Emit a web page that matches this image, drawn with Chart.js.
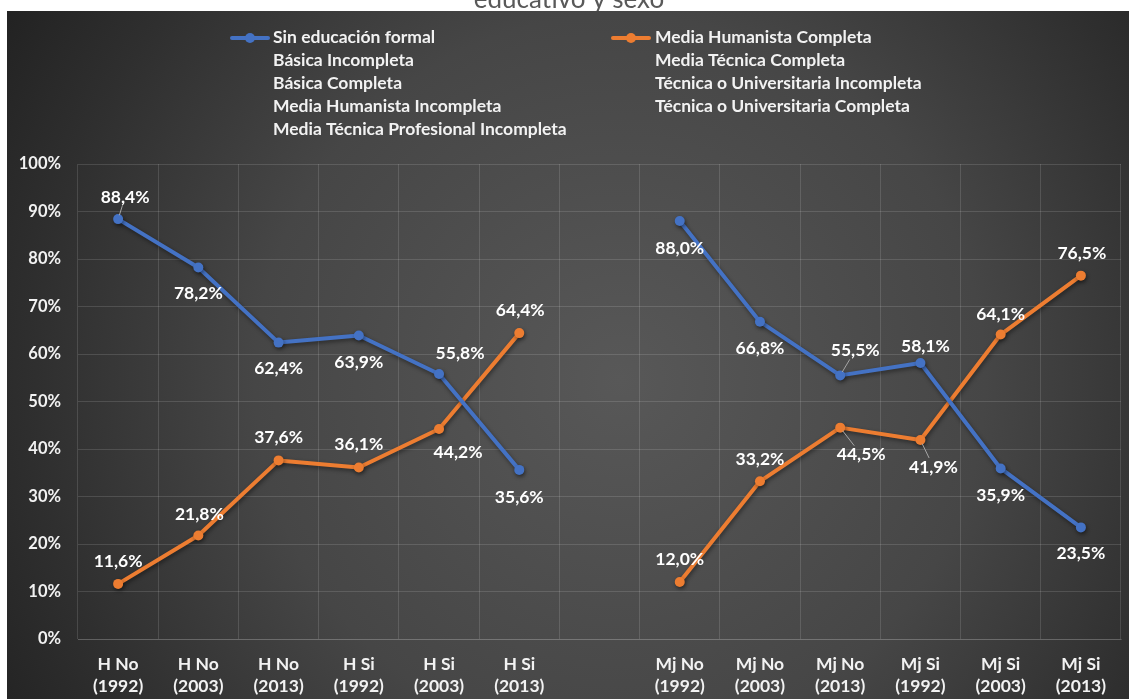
<!DOCTYPE html>
<html>
<head>
<meta charset="utf-8">
<script src="https://cdn.jsdelivr.net/npm/chart.js@4.4.1/dist/chart.umd.min.js"></script>
<style>
  html, body { margin: 0; padding: 0; background: #ffffff; }
  canvas { display: block; }
</style>
</head>
<body>
<canvas id="chart" width="1129" height="699"></canvas>
<script>
// Categories: sex (H / Mj), schooling (No / Si) and survey year; '' is the spacer column
const categories = [
  ['H No', '(1992)'], ['H No', '(2003)'], ['H No', '(2013)'],
  ['H Si', '(1992)'], ['H Si', '(2003)'], ['H Si', '(2013)'],
  '',
  ['Mj No', '(1992)'], ['Mj No', '(2003)'], ['Mj No', '(2013)'],
  ['Mj Si', '(1992)'], ['Mj Si', '(2003)'], ['Mj Si', '(2013)']
];

// Percentages per category (null = spacer column)
const sinEducacionFormal      = [88.4, 78.2, 62.4, 63.9, 55.8, 35.6, null, 88.0, 66.8, 55.5, 58.1, 35.9, 23.5];
const mediaHumanistaCompleta  = [11.6, 21.8, 37.6, 36.1, 44.2, 64.4, null, 12.0, 33.2, 44.5, 41.9, 64.1, 76.5];

// Legend entries, listed column by column
const legendColumnA = [
  'Sin educación formal',
  'Básica Incompleta',
  'Básica Completa',
  'Media Humanista Incompleta',
  'Media Técnica Profesional Incompleta'
];
const legendColumnB = [
  'Media Humanista Completa',
  'Media Técnica Completa',
  'Técnica o Universitaria Incompleta',
  'Técnica o Universitaria Completa'
];

const yTickValues = [0, 10, 20, 30, 40, 50, 60, 70, 80, 90, 100];
const titleText = 'educativo y sexo';

const BLUE = '#4472C4';
const ORANGE = '#ED7D31';
const FONT = 'Lato';

// Value-label nudges [dx, dy, leader] relative to each marker
const blueLabelNudge = [
  [7, -22, true], [0, 26], [0, 26], [0, 27], [21, -21], [0, 27], null,
  [0, 27], [0, 27], [15, -25, true], [5, -17], [0, 27], [0, 26]
];
const orangeLabelNudge = [
  [0, -23], [1, -21], [0, -23], [0, -23], [19, 23], [1, -23], null,
  [0, -23], [0, -22], [21, 27, true], [13, 27, true], [0, -20], [1, -22]
];

function seriesStyle(label, data, color) {
  return {
    label: label,
    data: data,
    borderColor: color,
    backgroundColor: color,
    pointBackgroundColor: color,
    pointBorderColor: color,
    borderWidth: 4,
    pointRadius: 5,
    pointHoverRadius: 5,
    pointBorderWidth: 0,
    borderCapStyle: 'round',
    borderJoinStyle: 'round',
    spanGaps: false,
    tension: 0
  };
}

const datasets = [];
legendColumnA.forEach((name, i) => {
  datasets.push(i === 0 ? seriesStyle(name, sinEducacionFormal, BLUE) : seriesStyle(name, [], 'transparent'));
});
legendColumnB.forEach((name, i) => {
  datasets.push(i === 0 ? seriesStyle(name, mediaHumanistaCompleta, ORANGE) : seriesStyle(name, [], 'transparent'));
});
const nudges = { 0: blueLabelNudge, [legendColumnA.length]: orangeLabelNudge };

function fmt(v) {
  return v.toFixed(1).replace('.', ',') + '%';
}

// Page backdrop: title strip and the radial dark panel
const backdrop = {
  id: 'backdrop',
  beforeDraw(chart) {
    const { ctx, width, height } = chart;
    ctx.save();
    ctx.fillStyle = '#ffffff';
    ctx.fillRect(0, 0, width, height);
    ctx.fillStyle = '#595959';
    ctx.font = '26px ' + FONT;
    ctx.textAlign = 'center';
    ctx.textBaseline = 'alphabetic';
    ctx.fillText(titleText, 569, 8);
    const g = ctx.createRadialGradient(620, 380, 0, 620, 380, 730);
    g.addColorStop(0, '#585858');
    g.addColorStop(0.5, '#464646');
    g.addColorStop(0.8, '#2f2f2f');
    g.addColorStop(1, '#212121');
    ctx.fillStyle = g;
    ctx.fillRect(7, 11, width - 7, height - 11);
    ctx.restore();
  }
};

// Soft drop shadow under lines and markers, then value labels on top
const lineDecor = {
  id: 'lineDecor',
  beforeDatasetsDraw(chart) {
    const ctx = chart.ctx;
    ctx.save();
    ctx.shadowColor = 'rgba(0,0,0,0.45)';
    ctx.shadowBlur = 4;
    ctx.shadowOffsetX = 1;
    ctx.shadowOffsetY = 2;
  },
  afterDatasetsDraw(chart) {
    const ctx = chart.ctx;
    ctx.restore();
    ctx.save();
    ctx.font = 'bold 17.5px ' + FONT;
    ctx.textAlign = 'center';
    ctx.textBaseline = 'middle';
    chart.data.datasets.forEach((ds, di) => {
      const table = nudges[di];
      if (!table) return;
      const meta = chart.getDatasetMeta(di);
      meta.data.forEach((pt, i) => {
        const v = ds.data[i];
        if (v === null || v === undefined) return;
        const n = table[i] || [0, -22];
        const lx = pt.x + n[0];
        const ly = pt.y + n[1];
        if (n[2]) {
          const dy = n[1];
          const dx = n[0];
          const len = Math.hypot(dx, dy);
          const sx = pt.x + dx * 4 / len;
          const sy = pt.y + dy * 4 / len;
          const t = (Math.abs(dy) - 9) / Math.abs(dy);
          ctx.strokeStyle = '#a6a6a6';
          ctx.lineWidth = 1;
          ctx.beginPath();
          ctx.moveTo(sx, sy);
          ctx.lineTo(pt.x + dx * t, pt.y + dy * t);
          ctx.stroke();
        }
        ctx.fillStyle = '#ffffff';
        ctx.fillText(fmt(v), lx, ly);
      });
    });
    ctx.restore();
  }
};

// Two-column legend drawn from the datasets
const columnLegend = {
  id: 'columnLegend',
  afterDraw(chart) {
    const ctx = chart.ctx;
    const cols = [
      { start: 0, count: legendColumnA.length, lineX: 232, textX: 273 },
      { start: legendColumnA.length, count: legendColumnB.length, lineX: 613, textX: 655 }
    ];
    ctx.save();
    ctx.font = 'bold 17.5px ' + FONT;
    ctx.textAlign = 'left';
    ctx.textBaseline = 'middle';
    cols.forEach(col => {
      for (let r = 0; r < col.count; r++) {
        const ds = chart.data.datasets[col.start + r];
        const y = 37 + r * 23;
        if (ds.borderColor !== 'transparent') {
          ctx.strokeStyle = ds.borderColor;
          ctx.lineWidth = 4;
          ctx.lineCap = 'round';
          ctx.beginPath();
          ctx.moveTo(col.lineX, y + 1);
          ctx.lineTo(col.lineX + 36, y + 1);
          ctx.stroke();
          ctx.fillStyle = ds.borderColor;
          ctx.beginPath();
          ctx.arc(col.lineX + 18, y + 1, 5, 0, Math.PI * 2);
          ctx.fill();
        }
        ctx.fillStyle = '#f2f2f2';
        ctx.fillText(ds.label, col.textX, y);
      }
    });
    ctx.restore();
  }
};

const gridColor = 'rgba(255,255,255,0.13)';

new Chart(document.getElementById('chart'), {
  type: 'line',
  data: { labels: categories, datasets: datasets },
  options: {
    responsive: false,
    animation: false,
    devicePixelRatio: 1,
    layout: { padding: { top: 164, right: 8, bottom: 0, left: 0 } },
    plugins: {
      legend: { display: false },
      title: { display: false },
      tooltip: { enabled: false }
    },
    scales: {
      x: {
        type: 'category',
        offset: true,
        grid: { offset: true, color: gridColor, lineWidth: 1, drawTicks: false },
        border: { display: true, color: gridColor, width: 1 },
        ticks: {
          autoSkip: false,
          maxRotation: 0,
          minRotation: 0,
          padding: 14,
          color: '#f2f2f2',
          font: { family: FONT, size: 17.5, weight: 'bold', lineHeight: '22px' }
        },
        afterFit(scale) { scale.height = 60; }
      },
      y: {
        min: 0,
        max: 100,
        afterBuildTicks(scale) { scale.ticks = yTickValues.map(v => ({ value: v })); },
        grid: { color: gridColor, lineWidth: 1, drawTicks: false },
        border: { display: false },
        ticks: {
          padding: 17,
          color: '#f2f2f2',
          font: { family: FONT, size: 16.5, weight: 'bold' },
          callback: v => v + '%'
        },
        afterFit(scale) { scale.width = 78; }
      }
    }
  },
  plugins: [backdrop, lineDecor, columnLegend]
});
</script>
</body>
</html>
